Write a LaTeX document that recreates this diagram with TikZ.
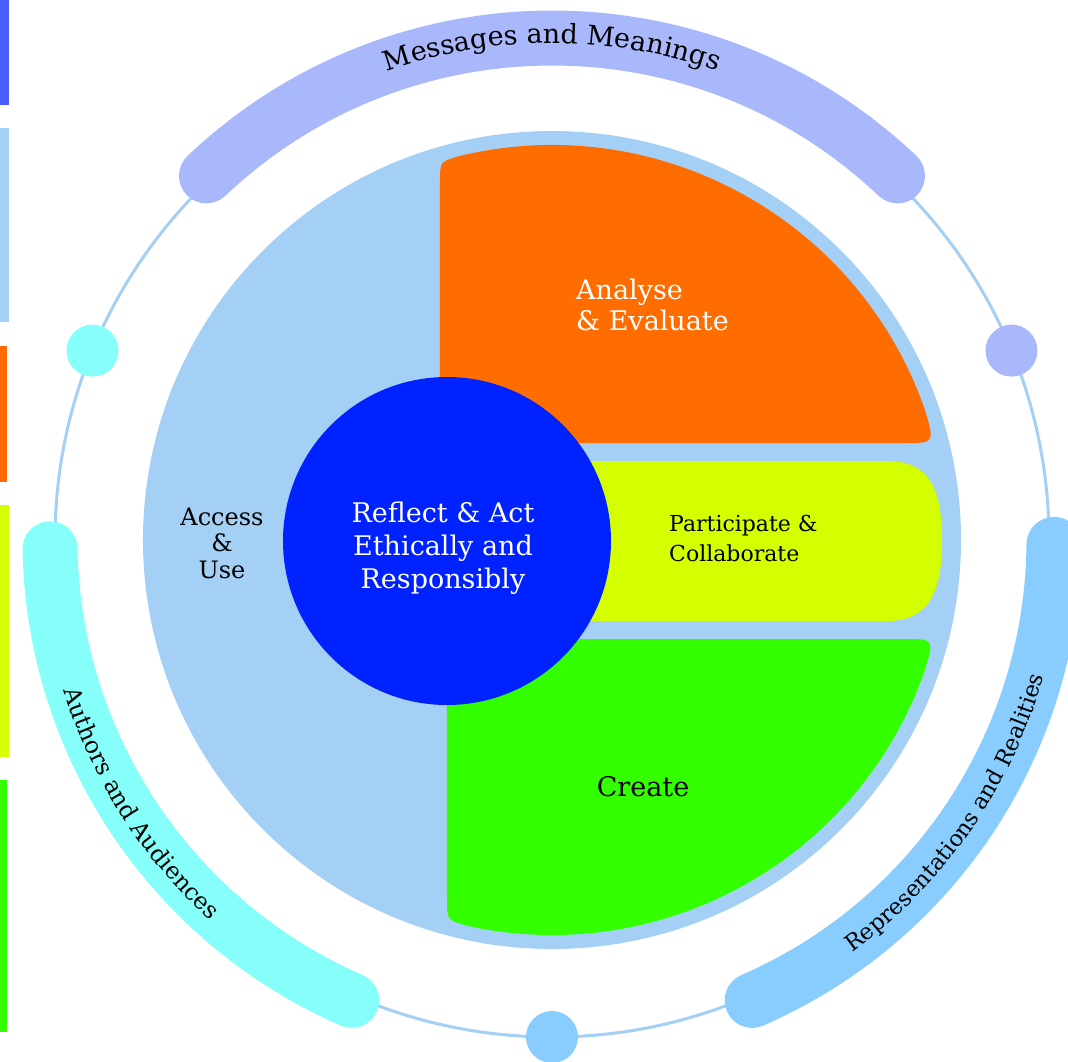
\documentclass[tikz,border=0pt]{standalone}
\usepackage{xcolor}
\usepackage{fontspec}
\setmainfont{DejaVu Serif}
\usepackage{tikz}
\usetikzlibrary{calc}
\usetikzlibrary{decorations.text}
\definecolor{stripblue}{RGB}{74,92,255}
\definecolor{paleblue}{RGB}{165,208,245}
\definecolor{orangeA}{RGB}{255,108,0}
\definecolor{limeP}{RGB}{212,255,0}
\definecolor{greenC}{RGB}{51,255,0}
\definecolor{coreblue}{RGB}{0,34,255}
\definecolor{periwinkle}{RGB}{169,184,250}
\definecolor{aqua}{RGB}{134,255,250}
\definecolor{skyblue}{RGB}{136,205,253}
\tikzstyle{every node}=[inner sep=0pt]
\tikzstyle{band}=[line width=55pt, line cap=round]
\tikzstyle{dot}=[circle, minimum size=52pt, inner sep=0pt]

\begin{document}
\begin{tikzpicture}[x=1pt,y=1pt]
            \def\R{497}
            \def\Rb{502}
            \def\Rd{409}
            \def\Rs{395}

            \useasboundingbox (-552,-521) rectangle (516,540);

            % strips at the left edge
            \fill[stripblue] (-552,540) rectangle (-542.5,435);
            \fill[paleblue] (-552,412) rectangle (-542.5,218);
            \fill[orangeA] (-552,194) rectangle (-545,58);
            \fill[limeP] (-552,35) rectangle (-542.5,-217);
            \fill[greenC] (-552,-240) rectangle (-545,-492);

            % outer ring with its three bands
            \draw[paleblue, line width=3pt] (0,0) circle[radius=\R];
            \draw[band, periwinkle] (133.5:\Rb) arc[start angle=133.5, end angle=46.5, radius=\Rb];
            \draw[band, aqua] (181:\Rb) arc[start angle=181, end angle=246.5, radius=\Rb];
            \draw[band, skyblue] (-66.5:\Rb) arc[start angle=-66.5, end angle=-0.5, radius=\Rb];

            \node[dot, fill=aqua] (dotL) at (157.6:\R) {};
            \node[dot, fill=periwinkle] (dotR) at (22.4:\R) {};
            \node[dot, fill=skyblue] (dotB) at (270:\R) {};

            \path[decorate, decoration={text along path, text align=center,
                text={|\fontsize{27}{27}\selectfont|Messages and Meanings}}]
                (130:497) arc[start angle=130, end angle=50, radius=497];
            \path[decorate, decoration={text along path, text align=center,
                text={|\fontsize{23.5}{23.5}\selectfont|Authors and Audiences}}]
                (182.6:511) arc[start angle=182.6, end angle=242.6, radius=511];
            \path[decorate, decoration={text along path, text align=center,
                text={|\fontsize{22.5}{22.5}\selectfont|Representations and Realities}}]
                (-64.7:510) arc[start angle=-64.7, end angle=-4.7, radius=510];

            % inner disk and its parts
            \fill[paleblue] (0,0) circle[radius=\Rd];
            \fill[orangeA] (-112,97) -- (-112,359) .. controls (-112,378.8) .. (103:\Rs)
                arc[start angle=103, end angle=19.5, radius=\Rs] .. controls (382.9,97) .. (353,97) -- cycle;
            \fill[limeP] (0,79) -- (335,79) .. controls (378,79) and (390,50) .. (390,0)
                .. controls (390,-50) and (378,-81) .. (335,-81) -- (0,-81) -- cycle;
            \fill[greenC] (-105,-99) -- (352,-99) .. controls (382.4,-99) .. (-19.5:\Rs)
                arc[start angle=-19.5, end angle=-101.5, radius=\Rs] .. controls (-105,-380.8) .. (-105,-360) -- cycle;

            \node[circle, fill=coreblue, minimum size=328pt] (core) at (-105,-1) {};

            \node[text=white, align=center, font=\fontsize{27}{33}\selectfont] (RA) at (-109,-8) {Reflect \& Act\\Ethically and\\Responsibly};
            \node[text=white, align=left, anchor=west, font=\fontsize{27}{31}\selectfont] (AE) at (24,235.5) {Analyse\\\& Evaluate};
            \node[align=left, anchor=west, font=\fontsize{22}{30}\selectfont] (PC) at (117,1.5) {Participate \&\\Collaborate};
            \node[align=center, font=\fontsize{24}{26.5}\selectfont] (AU) at (-330,-3) {Access\\\&\\Use};
            \node[font=\fontsize{27}{27}\selectfont] (CR) at (91,-247) {Create};
        \end{tikzpicture}
\end{document}
